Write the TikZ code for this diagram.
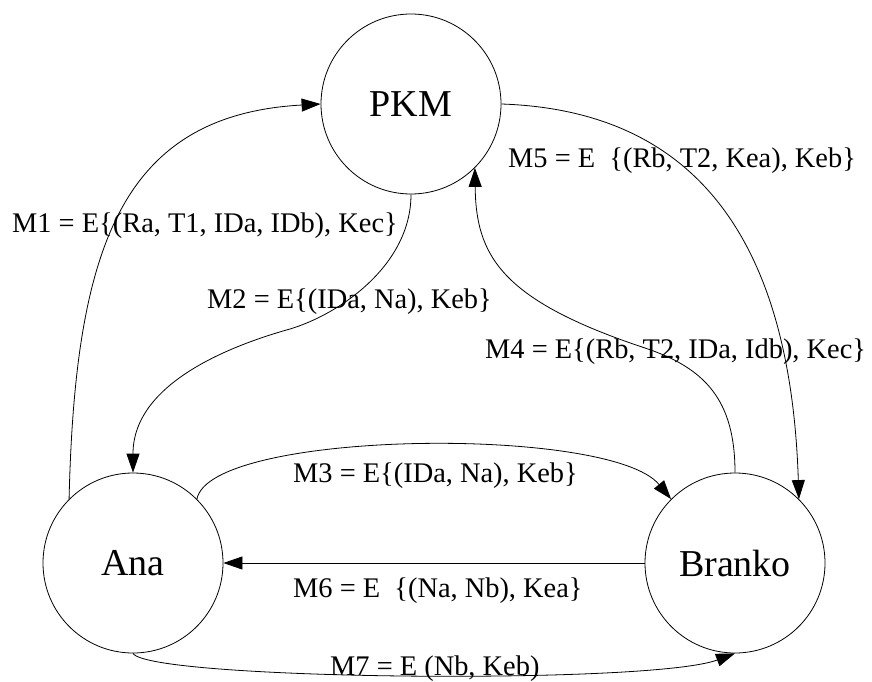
\documentclass[tikz,border=0pt]{standalone}
\usepackage{fontspec}
\setmainfont{Liberation Serif}
\usetikzlibrary{arrows.meta}
\begin{document}
\begin{tikzpicture}[x=1pt,y=-1pt,
  party/.style={draw,circle,minimum size=180pt,inner sep=0pt,line width=0.8pt,
    font=\fontsize{38}{44}\selectfont},
  msg/.style={line width=0.8pt,-{Triangle[length=19pt,width=13pt]}},
  msglabel/.style={anchor=base west,inner sep=0pt,font=\fontsize{28.4}{32}\selectfont}]
\useasboundingbox (0,0) rectangle (872,682);

% participants
\node[party] (pkm) at (411,104) {PKM};
\node[party] (ana) at (133,563) {Ana};
\node[party] (branko) at (735,563) {Branko};

% messages
\draw[msg] (ana.135) .. controls (75,250) and (120,115) .. (pkm.180);
\draw[msg] (pkm.270) .. controls (411,265) and (340,314) .. (290,329)
                     .. controls (240,343) and (133,380) .. (ana.90);
\draw[msg] (ana.45) .. controls (210,430) and (610,425) .. (branko.135);
\draw[msg] (branko.90) .. controls (735,400) and (705,368) .. (645,348)
                       .. controls (500,300) and (476,255) .. (pkm.-45);
\draw[msg] (pkm.0) .. controls (680,110) and (790,220) .. (branko.45);
\draw[msg] (branko.180) -- (ana.0);
\draw[msg] (ana.270) .. controls (150,680) and (650,685) .. (branko.270);

% message labels
\node[msglabel] (l1) at (12,232) {M1 = E\{(Ra, T1, IDa, IDb), Kec\}};
\node[msglabel] (l2) at (207,308) {M2 = E\{(IDa, Na), Keb\}};
\node[msglabel] (l3) at (293,482) {M3 = E\{(IDa, Na), Keb\}};
\node[msglabel] (l4) at (485,358) {M4 = E\{(Rb, T2, IDa, Idb), Kec\}};
\node[msglabel] (l5) at (508,167) {M5 = E~~\{(Rb, T2, Kea), Keb\}};
\node[msglabel] (l6) at (293,597) {M6 = E~~\{(Na, Nb), Kea\}};
\node[msglabel] (l7) at (330,675) {M7 = E (Nb, Keb)};
\end{tikzpicture}
\end{document}
